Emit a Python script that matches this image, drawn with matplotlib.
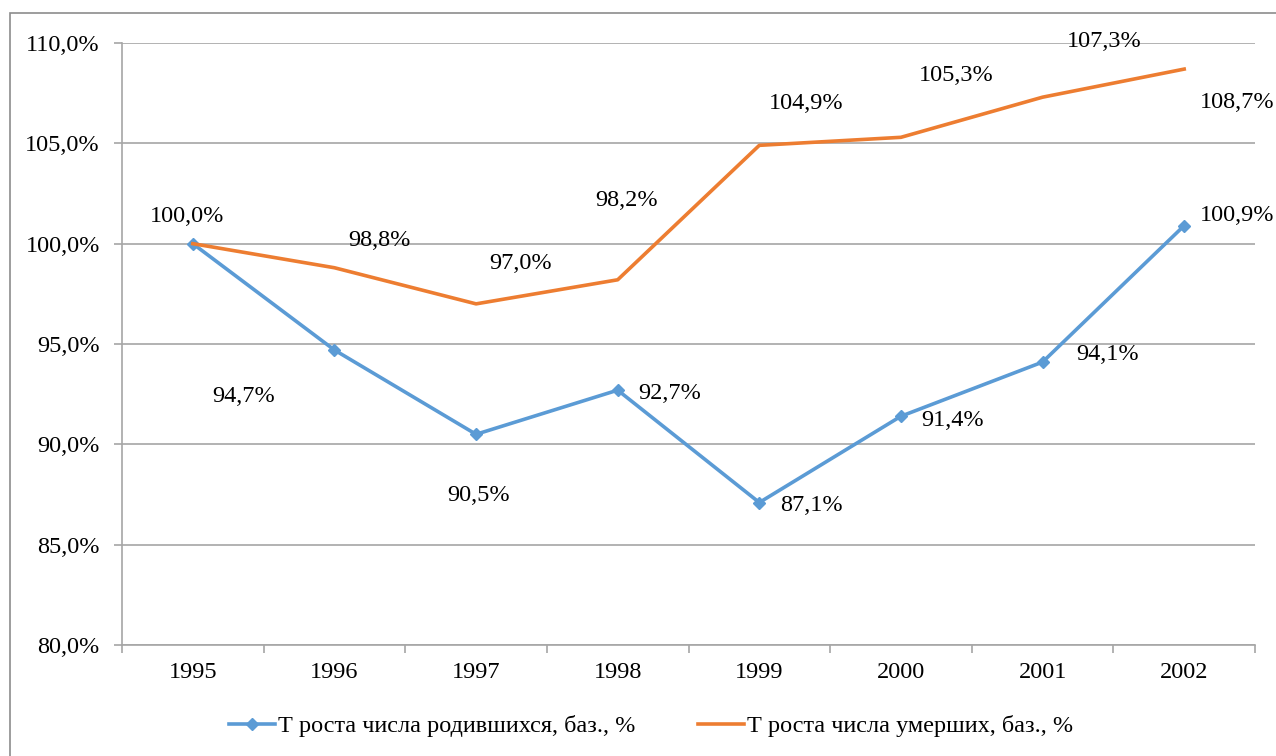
import matplotlib.pyplot as plt
from matplotlib.patches import Rectangle
from matplotlib.ticker import FuncFormatter

plt.rcParams['font.family'] = ['Liberation Serif', 'DejaVu Serif']

# data
years = ["1995", "1996", "1997", "1998", "1999", "2000", "2001", "2002"]
births = [100.0, 94.7, 90.5, 92.7, 87.1, 91.4, 94.1, 100.9]
deaths = [100.0, 98.8, 97.0, 98.2, 104.9, 105.3, 107.3, 108.7]
births_name = "Т роста числа родившихся, баз., %"
deaths_name = "Т роста числа умерших, баз., %"

# label offsets in pixels (dx, dy), dy positive = up
births_off = [(-6, 27), (-91, -46), (3, -61), (52, -3), (52, -3), (52, -4), (65, 8), (53, 10)]
deaths_off = [None, (45, 27), (45, 40), (9, 79), (47, 42), (55, 62), (62, 56), (53, -33)]

blue = "#5B9BD5"
orange = "#ED7D31"
grid_c = "#A6A6A6"
fs = 17.5

def pct(v):
    return f"{v:.1f}%".replace(".", ",")

fig = plt.figure(figsize=(12.76, 7.56), dpi=100)
ax = fig.add_axes([122/1276, 1-645/756, (1255-122)/1276, (645-43)/756])

x = list(range(len(years)))
ax.plot(x, births, color=blue, lw=2.6, marker="D", ms=6.5, label=births_name, zorder=3)
ax.plot(x, deaths, color=orange, lw=2.6, label=deaths_name, zorder=3)

for i, v in enumerate(births):
    dx, dy = births_off[i]
    ax.annotate(pct(v), (i, v), xytext=(dx, dy), textcoords="offset pixels",
                ha="center", va="center", fontsize=fs)
for i, v in enumerate(deaths):
    if deaths_off[i] is None:
        continue
    dx, dy = deaths_off[i]
    ax.annotate(pct(v), (i, v), xytext=(dx, dy), textcoords="offset pixels",
                ha="center", va="center", fontsize=fs)

ax.set_xlim(-0.5, len(years) - 0.5)
ax.set_ylim(80, 110)
ax.set_yticks([80, 85, 90, 95, 100, 105, 110])
ax.yaxis.set_major_formatter(FuncFormatter(lambda v, p: pct(v)))
ax.set_xticks(x)
ax.set_xticklabels(years)
ax.set_xticks([i - 0.5 for i in range(len(years) + 1)], minor=True)
ax.tick_params(axis="x", which="major", length=0, pad=12, labelsize=fs)
ax.tick_params(axis="x", which="minor", length=6, color=grid_c, width=1.2)
ax.tick_params(axis="y", length=6, color=grid_c, width=1.2, pad=10, labelsize=fs)
ax.yaxis.grid(True, color=grid_c, lw=1.2)
ax.set_axisbelow(True)
for s in ["top", "right"]:
    ax.spines[s].set_visible(False)
for s in ["left", "bottom"]:
    ax.spines[s].set_color(grid_c)
    ax.spines[s].set_linewidth(1.2)

fig.legend(loc="center", bbox_to_anchor=(651/1276, 1-726/756), ncol=2, frameon=False,
           fontsize=fs, handlelength=1.9, columnspacing=2.6, handletextpad=0.1)

fig.patches.append(Rectangle((10/1276, -0.1), 1.2, 0.1 + 1 - 13/756, transform=fig.transFigure,
                             fill=False, edgecolor="#8C8C8C", lw=1.2))

fig.savefig("out.png", dpi=100)
